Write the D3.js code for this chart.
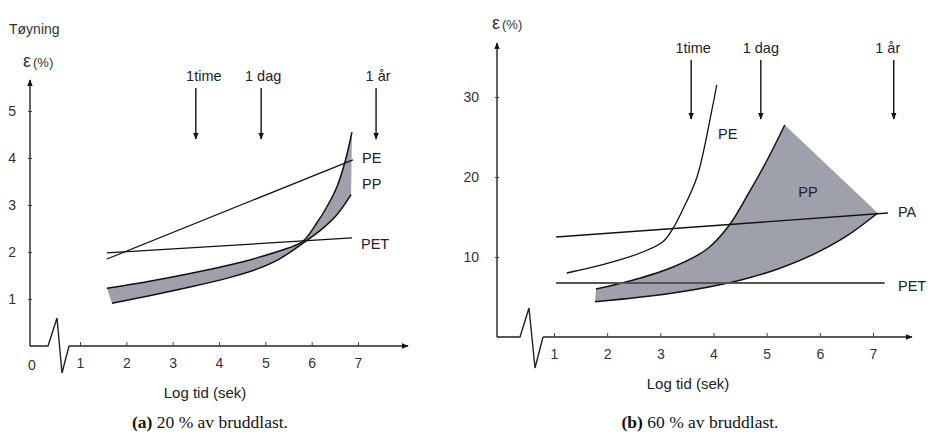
<!DOCTYPE html>
<html>
<head>
<meta charset="utf-8">
<script src="https://cdn.jsdelivr.net/npm/d3@7"></script>
<style>
body{margin:0;background:#fff;}
text{font-family:"Liberation Sans",Arial,sans-serif;}
</style>
</head>
<body>
<svg width="936" height="442"></svg>
<script>
// time marks (log10 seconds)
var markLabels=['1time','1 dag','1 år'];
var marksA=[3.5,4.91,7.39];
var marksB=[3.58,4.89,7.39];

// panel a : 20 %
var xTicksA=[1,2,3,4,5,6,7];
var yTicksA=[1,2,3,4,5];
var peA=[[1.58,1.85],[6.89,3.96]];
var petA=[[1.58,1.98],[6.87,2.3]];
var ppTopA=[[1.58,1.23],[2.5,1.38],[3.4,1.55],[4.2,1.72],[4.8,1.87],[5.3,2.02],[5.8,2.22],[6.1,2.6],[6.35,3.0],[6.55,3.4],[6.72,3.92],[6.87,4.55]];
var ppLowA=[[1.69,0.91],[2.5,1.07],[3.4,1.26],[4.2,1.45],[4.8,1.63],[5.3,1.85],[5.8,2.18],[6.2,2.47],[6.55,2.8],[6.85,3.22]];

// panel b : 60 %
var xTicksB=[1,2,3,4,5,6,7];
var yTicksB=[10,20,30];
var peB=[[1.24,8.0],[2.0,9.2],[2.62,10.5],[3.05,11.9],[3.24,13.6],[3.42,15.9],[3.69,20],[3.97,28.4],[4.06,31.5]];
var paB=[[1.04,12.5],[7.28,15.5]];
var petB=[[1.04,6.75],[7.22,6.75]];
var ppTopB=[[1.79,6.0],[2.48,7.1],[3.24,8.75],[3.88,11.0],[4.3,14.0],[4.68,18.2],[5.0,22.0],[5.34,26.5]];
var ppLowB=[[1.77,4.4],[3.24,5.5],[4.5,7.1],[5.25,8.6],[5.87,10.3],[6.5,12.6],[7.09,15.5]];

var svg=d3.select('svg');
var defs=svg.append('defs');
defs.append('marker').attr('id','ah').attr('viewBox','0 0 10 10').attr('refX',9).attr('refY',5)
  .attr('markerWidth',7).attr('markerHeight',7).attr('markerUnits','userSpaceOnUse').attr('orient','auto')
  .append('path').attr('d','M0,1 L10,5 L0,9 Z').attr('fill','#111');

var smooth=d3.curveCatmullRom.alpha(0.5);

function panel(o){
  var g=svg.append('g');
  var x=d3.scaleLinear().domain([1,7]).range(o.xr);
  var y=d3.scaleLinear().domain(o.yd).range(o.yr);
  var ox=o.ox, oy=y(0);
  var line=d3.line().x(function(d){return x(d[0]);}).y(function(d){return y(d[1]);});
  var curve=d3.line().x(function(d){return x(d[0]);}).y(function(d){return y(d[1]);}).curve(smooth);

  // pp band: fill between the two curves, then stroke the curved edges
  g.append('path').attr('d',line(densify(o.ppTop,o.ppLow,curve,x,y))+'Z')
    .attr('fill','#9ea1ac').attr('stroke','none');
  g.append('path').attr('d',curve(o.ppTop)).attr('fill','none').attr('stroke','#111').attr('stroke-width',1.5);
  g.append('path').attr('d',curve(o.ppLow)).attr('fill','none').attr('stroke','#111').attr('stroke-width',1.5);

  o.lines.forEach(function(l){
    g.append('path').attr('d',(l.curved?curve:line)(l.data)).attr('fill','none')
      .attr('stroke',l.color||'#111').attr('stroke-width',l.w||1.2);
  });

  // axes
  g.append('line').attr('x1',ox).attr('y1',oy).attr('x2',ox).attr('y2',o.yTop)
    .attr('stroke','#222').attr('stroke-width',1.4).attr('marker-end','url(#ah)');
  var br=o.brk.map(function(p){return [ox+p[0],oy+p[1]];});
  g.append('path').attr('d',d3.line()([[ox,oy]].concat(br))).attr('fill','none').attr('stroke','#222').attr('stroke-width',1.4);
  g.append('line').attr('x1',br[br.length-1][0]).attr('y1',oy).attr('x2',o.xTip).attr('y2',oy)
    .attr('stroke','#222').attr('stroke-width',1.4).attr('marker-end','url(#ah)');

  var yAx=g.append('g').attr('transform','translate('+ox+',0)')
    .call(d3.axisLeft(y).tickValues(o.yTicks).tickFormat(d3.format('d')).tickSizeInner(-4).tickSizeOuter(0).tickPadding(o.yPad));
  yAx.select('.domain').remove();
  yAx.selectAll('line').attr('transform','translate(-2,0)').attr('stroke','#444');
  yAx.selectAll('text').attr('font-size',14).attr('fill','#333').attr('font-family','Liberation Sans, Arial, sans-serif');

  var xAx=g.append('g').attr('transform','translate(0,'+oy+')')
    .call(d3.axisBottom(x).tickValues(o.xTicks).tickFormat(d3.format('d')).tickSizeInner(-4).tickSizeOuter(0).tickPadding(12));
  xAx.select('.domain').remove();
  xAx.selectAll('line').attr('stroke','#444');
  xAx.selectAll('text').attr('font-size',14).attr('fill','#333').attr('font-family','Liberation Sans, Arial, sans-serif');
  if(o.zero) g.append('text').attr('x',ox+2).attr('y',oy+24).attr('text-anchor','middle').attr('font-size',14).attr('fill','#333').text('0');

  g.append('text').attr('x',o.xLabelX).attr('y',oy+52).attr('text-anchor','middle').attr('font-size',15).attr('fill','#222').text('Log tid (sek)');

  var eps=g.append('text').attr('x',o.epsX).attr('y',o.epsY).attr('fill','#333');
  eps.append('tspan').attr('font-size',18).text('ε');
  eps.append('tspan').attr('font-size',13).attr('dx',2).text('(%)');

  // time arrows
  o.marks.forEach(function(m,i){
    g.append('line').attr('x1',x(m)).attr('x2',x(m)).attr('y1',o.arrY[0]).attr('y2',o.arrY[1])
      .attr('stroke','#111').attr('stroke-width',1.4).attr('marker-end','url(#ah)');
    g.append('text').attr('x',x(m)+o.markDx[i]).attr('y',o.arrY[0]-7).attr('text-anchor','middle')
      .attr('font-size',14.5).attr('fill','#222').text(markLabels[i]);
  });

  o.labels.forEach(function(l){
    g.append('text').attr('x',l[1]).attr('y',l[2]).attr('text-anchor',l[3]||'start').attr('font-size',14.5).attr('fill','#222').text(l[0]);
  });

  var cap=g.append('text').attr('x',o.capX).attr('y',428).attr('text-anchor','middle')
    .attr('font-family','Liberation Serif, Times New Roman, serif').attr('font-size',17.5).attr('fill','#111');
  cap.append('tspan').attr('font-weight','bold').attr('font-family','Liberation Serif, serif').text(o.capB);
  cap.append('tspan').attr('font-family','Liberation Serif, serif').text(o.capT);
  return g;
}

// sample both drawn edges so the fill follows the same curves
function densify(top,low,curve,x,y){
  function sample(pts){
    var tmp=svg.append('path').attr('d',curve(pts)).attr('fill','none');
    var n=tmp.node(),L=n.getTotalLength(),out=[];
    for(var i=0;i<=150;i++){var q=n.getPointAtLength(L*i/150);out.push([x.invert(q.x),y.invert(q.y)]);}
    tmp.remove();
    return out;
  }
  return sample(top).concat(sample(low).reverse());
}

panel({
  xr:[80,358], yd:[0,5], yr:[346,111], ox:30, yTop:80, xTip:408,
  brk:[[18,0],[27,-28],[32,27],[39,0]],
  xTicks:xTicksA, yTicks:yTicksA, yPad:14, zero:true,
  ppTop:ppTopA, ppLow:ppLowA,
  lines:[{data:peA,w:1.2},{data:petA,w:1.2}],
  marks:marksA, markDx:[8,2,2], arrY:[88,139],
  xLabelX:205, epsX:23, epsY:67,
  labels:[['PE',362,163],['PP',362,189],['PET',361,249]],
  capX:210, capB:'(a)', capT:' 20 % av bruddlast.'
});
svg.append('text').attr('x',9).attr('y',34).attr('font-size',14).attr('fill','#333').text('Tøyning');

panel({
  xr:[554,873], yd:[0,30], yr:[337,97], ox:497, yTop:43, xTip:912,
  brk:[[23,0],[32,-29],[38,31],[46,0]],
  xTicks:xTicksB, yTicks:yTicksB, yPad:18, zero:false,
  ppTop:ppTopB, ppLow:ppLowB,
  lines:[{data:peB,curved:true,w:1.3},{data:paB,w:1.4},{data:petB,w:2,color:'#555'}],
  marks:marksB, markDx:[2,0,-6], arrY:[60,119],
  xLabelX:688, epsX:492, epsY:29,
  labels:[['PE',718,139],['PP',808,197,'middle'],['PA',898,217],['PET',898,291]],
  capX:700, capB:'(b)', capT:' 60 % av bruddlast.'
});
</script>
</body>
</html>
